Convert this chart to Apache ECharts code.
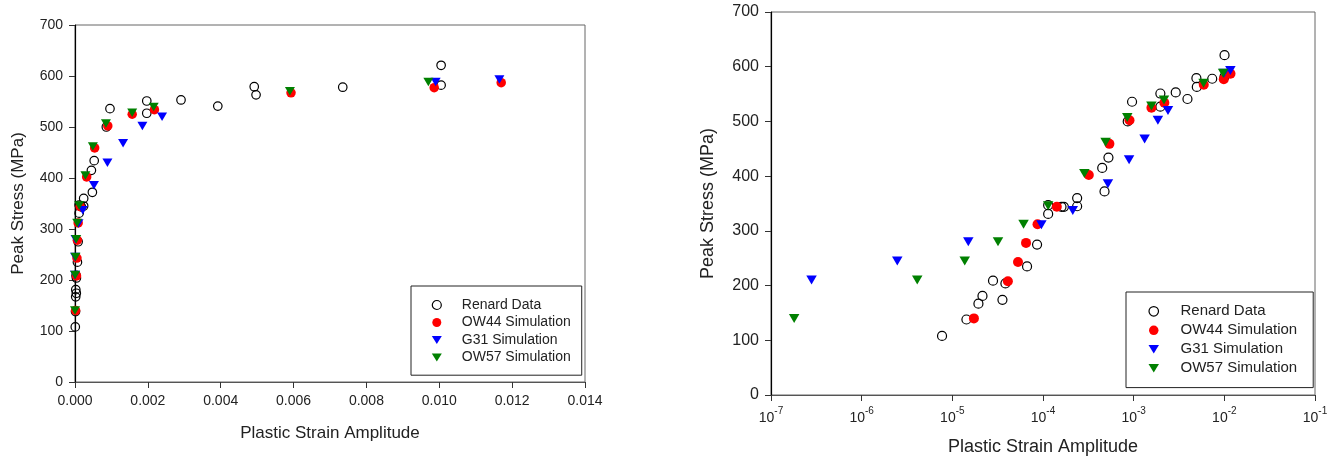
<!DOCTYPE html>
<html>
<head>
<meta charset="utf-8">
<script src="https://cdn.jsdelivr.net/npm/echarts@6/dist/echarts.min.js"></script>
<style>
html,body{margin:0;padding:0;background:#fff;}
#chart{width:1328px;height:456px;}
</style>
</head>
<body>
<div id="chart"></div>
<script>
// peak stress vs plastic strain amplitude, same data on both panels
var seriesNames = ['Renard Data', 'OW44 Simulation', 'G31 Simulation', 'OW57 Simulation'];

var renardX = [7.7e-6, 1.43e-5, 1.94e-5, 2.15e-5, 2.81e-5, 3.57e-5, 3.85e-5, 6.67e-5, 8.6e-5, 1.14e-4,
               1.14e-4, 1.6e-4, 1.7e-4, 2.38e-4, 2.38e-4, 4.5e-4, 4.77e-4, 5.27e-4, 8.6e-4, 9.6e-4,
               1.97e-3, 1.97e-3, 2.91e-3, 3.92e-3, 4.92e-3, 4.97e-3, 7.35e-3, 1.005e-2, 1.005e-2];
var renardY = [108, 138, 167, 181, 209, 174, 204, 235, 275, 331,
               347, 344, 344, 360, 345, 415, 372, 434, 500, 536,
               551, 527, 553, 541, 579, 563, 578, 621, 582];

var ow44X = [1.73e-5, 4.1e-5, 5.3e-5, 6.5e-5, 8.7e-5, 1.42e-4, 3.2e-4, 5.4e-4, 9.0e-4, 1.57e-3,
             2.18e-3, 5.93e-3, 9.86e-3, 1.17e-2];
var ow44Y = [140, 208, 243, 278, 312, 344, 402, 459, 502, 525,
             534, 567, 577, 587];

var g31X = [2.8e-7, 2.47e-6, 1.5e-5, 9.6e-5, 2.13e-4, 5.2e-4, 8.9e-4, 1.32e-3, 1.85e-3, 2.39e-3,
            9.9e-3, 1.165e-2];
var g31Y = [210, 245, 280, 311, 337, 386, 430, 468, 502, 520,
            588, 593];

var ow57X = [1.8e-7, 4.1e-6, 1.37e-5, 3.19e-5, 6.1e-5, 1.14e-4, 2.86e-4, 4.9e-4, 8.5e-4, 1.57e-3,
             2.16e-3, 5.9e-3, 9.7e-3];
var ow57Y = [140, 210, 245, 280, 312, 346, 405, 462, 507, 528,
             539, 570, 588];

var linearTicks = [0, 0.002, 0.004, 0.006, 0.008, 0.010, 0.012, 0.014];
var logTicks = [1e-7, 1e-6, 1e-5, 1e-4, 1e-3, 1e-2, 1e-1];
var stressTicks = [0, 100, 200, 300, 400, 500, 600, 700];

var font = 'Liberation Sans, Arial, sans-serif';
var txt = '#222';
var downTri = 'path://M0,0L10,0L5,8Z';

function pairs(xs, ys){
	var out = [];
	for (var i = 0; i < xs.length; i++) {
		out.push([xs[i], ys[i]]);
	}
	return out;
}

var markers = [
	{ x: renardX, y: renardY, symbol: 'circle', icon: 'circle', size: [8.5, 8.5], rotate: 0,
	  style: { color: 'rgba(255,255,255,0)', borderColor: '#000', borderWidth: 1.2, opacity: 1 } },
	{ x: ow44X, y: ow44Y, symbol: 'circle', icon: 'circle', size: [9.5, 9.5], rotate: 0,
	  style: { color: '#ff0000', opacity: 1 } },
	{ x: g31X, y: g31Y, symbol: 'triangle', icon: downTri, size: [10, 8.5], rotate: 180,
	  style: { color: '#0000ff', opacity: 1 } },
	{ x: ow57X, y: ow57Y, symbol: 'triangle', icon: downTri, size: [10, 8.5], rotate: 180,
	  style: { color: '#008000', opacity: 1 } }
];

var series = [];
for (var g = 0; g < 2; g++) {
	for (var k = 0; k < markers.length; k++) {
		var m = markers[k];
		series.push({
			name: seriesNames[k],
			type: 'scatter',
			xAxisIndex: g,
			yAxisIndex: g,
			symbol: m.symbol,
			symbolSize: g === 0 ? m.size : [m.size[0] + 0.5, m.size[1] + 0.5],
			symbolRotate: m.rotate,
			itemStyle: m.style,
			emphasis: { disabled: true },
			data: pairs(m.x, m.y)
		});
	}
}

function legendData(){
	var d = [];
	for (var k = 0; k < markers.length; k++) {
		d.push({ name: seriesNames[k], icon: markers[k].icon, itemStyle: markers[k].style });
	}
	return d;
}

function yAxisFor(grid, fontSize, nameSize, nameGap){
	return {
		type: 'value',
		gridIndex: grid,
		min: stressTicks[0],
		max: stressTicks[stressTicks.length - 1],
		interval: 100,
		name: 'Peak Stress (MPa)',
		nameLocation: 'middle',
		nameGap: nameGap,
		nameTextStyle: { fontFamily: font, fontSize: nameSize, color: txt },
		axisLine: { show: true, lineStyle: { color: '#000', width: 1.2 } },
		axisTick: { show: true, length: 6, lineStyle: { color: '#333' } },
		axisLabel: { fontFamily: font, fontSize: fontSize, color: txt, margin: 12 },
		splitLine: { show: false }
	};
}

option = {
	backgroundColor: '#fff',
	animation: false,
	grid: [
		{ left: 75, top: 25, width: 510, height: 357, outerBoundsMode: 'none', containLabel: false,
		  show: true, borderColor: '#666', borderWidth: 1 },
		{ left: 771, top: 12, width: 544, height: 383, outerBoundsMode: 'none', containLabel: false,
		  show: true, borderColor: '#666', borderWidth: 1 }
	],
	legend: [
		{
			data: legendData(),
			orient: 'vertical',
			left: 411,
			top: 286,
			itemWidth: 10,
			itemHeight: 9,
			itemGap: 3.5,
			padding: [12, 11, 10.7, 20.7],
			borderColor: '#222',
			borderWidth: 1,
			borderRadius: 0,
			selectedMode: false,
			textStyle: { fontFamily: font, fontSize: 14, lineHeight: 14, color: txt, padding: [0, 0, 0, 15] }
		},
		{
			data: legendData(),
			orient: 'vertical',
			left: 1126,
			top: 292,
			itemWidth: 10.5,
			itemHeight: 9.5,
			itemGap: 4,
			padding: [11.8, 16, 11.8, 22.4],
			borderColor: '#222',
			borderWidth: 1,
			borderRadius: 0,
			selectedMode: false,
			textStyle: { fontFamily: font, fontSize: 15, lineHeight: 15, color: txt, padding: [0, 0, 0, 16.5] }
		}
	],
	xAxis: [
		{
			type: 'value',
			gridIndex: 0,
			min: linearTicks[0],
			max: linearTicks[linearTicks.length - 1],
			interval: 0.002,
			name: 'Plastic Strain Amplitude',
			nameLocation: 'middle',
			nameGap: 43,
			nameTextStyle: { fontFamily: font, fontSize: 17, color: txt },
			axisLine: { show: true, lineStyle: { color: '#555', width: 1.2 } },
			axisTick: { show: true, length: 6, lineStyle: { color: '#333' } },
			axisLabel: {
				fontFamily: font, fontSize: 14, color: txt, margin: 12,
				formatter: function(v){ return v.toFixed(3); }
			},
			splitLine: { show: false }
		},
		{
			type: 'log',
			logBase: 10,
			gridIndex: 1,
			min: logTicks[0],
			max: logTicks[logTicks.length - 1],
			splitNumber: 6,
			name: 'Plastic Strain Amplitude',
			nameLocation: 'middle',
			nameGap: 43,
			nameTextStyle: { fontFamily: font, fontSize: 18, color: txt },
			axisLine: { show: true, lineStyle: { color: '#555', width: 1.2 } },
			axisTick: { show: true, length: 6, lineStyle: { color: '#333' } },
			minorTick: { show: false },
			axisLabel: {
				margin: 11,
				formatter: function(v){
					var e = Math.round(Math.log(v) / Math.LN10);
					return '{b|10}{s|' + e + '}';
				},
				rich: {
					b: { fontFamily: font, fontSize: 14, lineHeight: 24, color: txt },
					s: { fontFamily: font, fontSize: 10, lineHeight: 10, verticalAlign: 'top', color: txt }
				}
			},
			splitLine: { show: false }
		}
	],
	yAxis: [
		yAxisFor(0, 14, 17, 48),
		yAxisFor(1, 16, 18, 54)
	],
	series: series
};

var mychart = echarts.init(document.getElementById('chart'));
mychart.setOption(option);
</script>
</body>
</html>
